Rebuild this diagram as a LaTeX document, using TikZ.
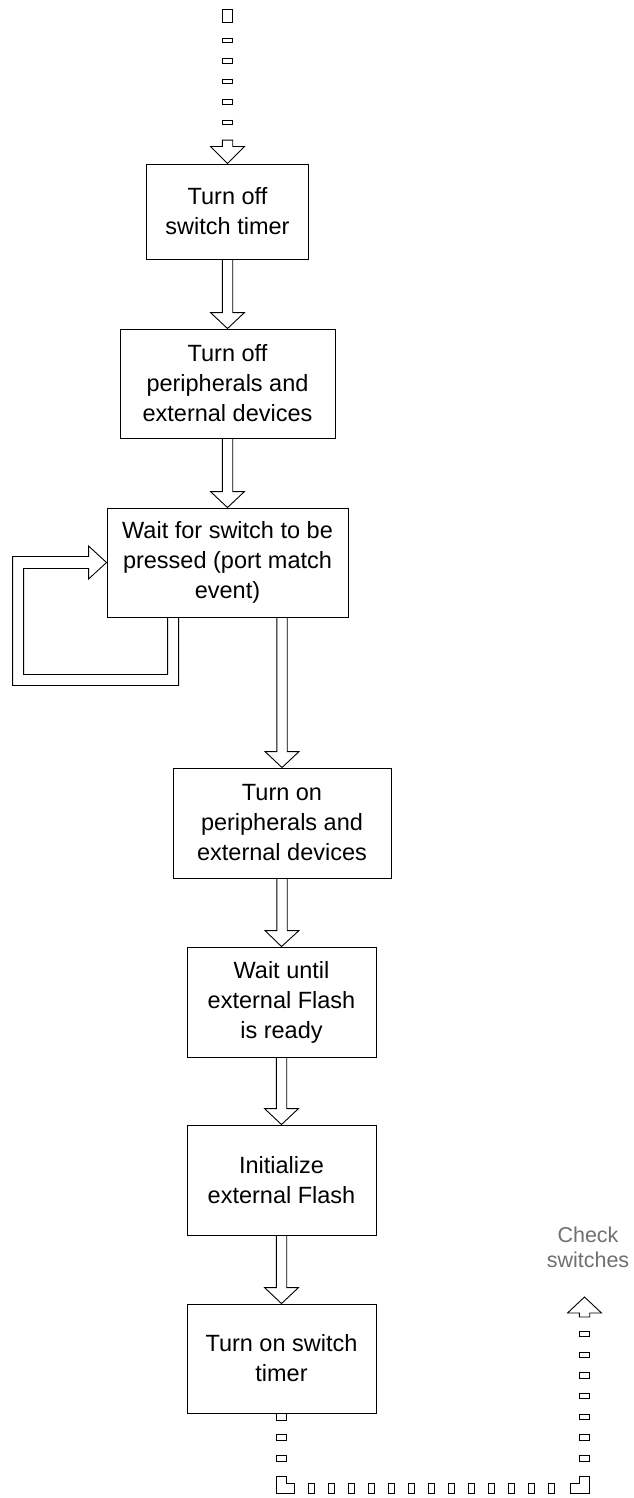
\documentclass[tikz,border=0pt]{standalone}
\usepackage{fontspec}
\setmainfont{Liberation Sans}
\usepackage{xcolor}
\usepackage{tikz}
\usetikzlibrary{calc}

\definecolor{notegray}{RGB}{112,112,112}

\tikzset{
    stepbox/.style={draw, line width=0.9pt, align=center, inner sep=0pt,
        font=\fontsize{23.5pt}{30pt}\selectfont},
    fat/.style={draw, line width=0.9pt, fill=white,
        to path={let \p1=(\tikztostart), \p2=(\tikztotarget) in
            (\x1-5.2pt,\y1) -- (\x1-5.2pt,{\y2+(#1)}) -- (\x1-17pt,{\y2+(#1)}) -- (\x2,\y2)
            -- (\x1+17pt,{\y2+(#1)}) -- (\x1+5.2pt,{\y2+(#1)}) -- (\x1+5.2pt,\y1) -- cycle}},
    fat/.default=16pt,
    dotpipe/.style 2 args={draw, line width=11pt, #1,
        postaction={draw=white, line width=9pt, #2}},
    topdash/.style={dash pattern=on 13.4pt off 15pt on 5.5pt off 15pt on 5.5pt off 15pt
        on 5.5pt off 15pt on 5.5pt off 15pt on 5.5pt off 15pt},
    topdashin/.style={dash pattern=on 0pt off 1pt on 11.4pt off 17pt on 3.5pt off 17pt
        on 3.5pt off 17pt on 3.5pt off 17pt on 3.5pt off 17pt on 3.5pt off 17pt},
    exitdash/.style={dash pattern=on 8pt off 13pt on 7pt off 14pt on 7pt off 14pt on 26pt off 13pt
        on 7pt off 13pt on 7pt off 13pt on 7pt off 13pt on 7pt off 13pt on 7pt off 13pt on 7pt off 13pt
        on 7pt off 13pt on 7pt off 13pt on 7pt off 13pt on 7pt off 13pt on 7pt off 13pt on 7pt off 13pt
        on 7pt off 15pt on 27pt off 14pt
        on 6.5pt off 14.2pt on 6.5pt off 14.2pt on 6.5pt off 14.2pt on 6.5pt off 14.2pt
        on 6.5pt off 14.2pt on 6.5pt off 14.2pt on 6.5pt off 14.2pt},
    exitdashin/.style={dash pattern=on 0pt off 1pt on 6pt off 15pt on 5pt off 16pt on 5pt off 16pt on 24pt off 15pt
        on 5pt off 15pt on 5pt off 15pt on 5pt off 15pt on 5pt off 15pt on 5pt off 15pt on 5pt off 15pt
        on 5pt off 15pt on 5pt off 15pt on 5pt off 15pt on 5pt off 15pt on 5pt off 15pt on 5pt off 15pt
        on 5pt off 17pt on 25pt off 16pt
        on 4.5pt off 16.2pt on 4.5pt off 16.2pt on 4.5pt off 16.2pt on 4.5pt off 16.2pt
        on 4.5pt off 16.2pt on 4.5pt off 16.2pt on 4.5pt off 16.2pt}
}

\begin{document}
\begin{tikzpicture}[x=1pt, y=-1pt]
    \useasboundingbox (0,0) rectangle (633,1498);

    \node[stepbox, minimum width=162pt, minimum height=95pt] at (227.5,211.5) (swoff) {Turn off\\switch timer};
    \node[stepbox, minimum width=215pt, minimum height=109pt] at (227.5,383.5) (perioff) {Turn off\\peripherals and\\external devices};
    \node[stepbox, minimum width=241pt, minimum height=109pt] at (227.5,562.5) (wait) {Wait for switch to be\\pressed (port match\\event)};
    \node[stepbox, minimum width=218pt, minimum height=110pt] at (282,823) (perion) {Turn on\\peripherals and\\external devices};
    \node[stepbox, minimum width=189pt, minimum height=110pt] at (281.5,1002) (ready) {Wait until\\external Flash\\is ready};
    \node[stepbox, minimum width=189pt, minimum height=110pt] at (281.5,1180) (init) {Initialize\\external Flash};
    \node[stepbox, minimum width=189pt, minimum height=109pt] at (281.5,1358.5) (swon) {Turn on switch\\timer};
    \node[align=center, inner sep=0pt, text=notegray, font=\fontsize{21.5pt}{25pt}\selectfont] at (588,1247) (chk) {Check\\switches};

    \coordinate (entry) at (227.5,9.3);
    \coordinate (entryhead) at (227.5,140.2);
    \coordinate (bend1) at (281.5,1488.5);
    \coordinate (bend2) at (584.5,1488.5);
    \coordinate (exithead) at (584.5,1317);
    \coordinate (exittip) at (584.5,1297);

    \draw[dotpipe={topdash}{topdashin}] (entry) -- (entryhead);
    \draw[fat=17pt] (entryhead) to (swoff.north);

    \draw[fat] (swoff.south) to (perioff.north);
    \draw[fat] (perioff.south) to (wait.north);
    \draw[fat] (wait.south -| perion.north) to (perion.north);
    \draw[fat] (perion.south) to (ready.north);
    \draw[fat] (ready.south) to (init.north);
    \draw[fat] (init.south) to (swon.north);

    \draw[line width=0.9pt] let \p1=(wait.south west), \p2=(wait.west) in
        (\x1+61pt,\y1) -- (\x1+61pt,\y1-57pt) -- (\x1-83pt,\y1-57pt) -- (\x1-83pt,\y2-6pt)
        -- (\x2-18pt,\y2-6pt) -- (\x2-18pt,\y2-16.5pt) -- (\p2) -- (\x2-18pt,\y2+16.5pt)
        -- (\x2-18pt,\y2+6pt) -- (\x1-94pt,\y2+6pt) -- (\x1-94pt,\y1-68pt)
        -- (\x1+72pt,\y1-68pt) -- (\x1+72pt,\y1);

    \draw[dotpipe={exitdash}{exitdashin}] (swon.south) -- (bend1) -- (bend2) -- (exithead);
    \draw[fat=-16pt] (exithead) to (exittip);
\end{tikzpicture}
\end{document}
